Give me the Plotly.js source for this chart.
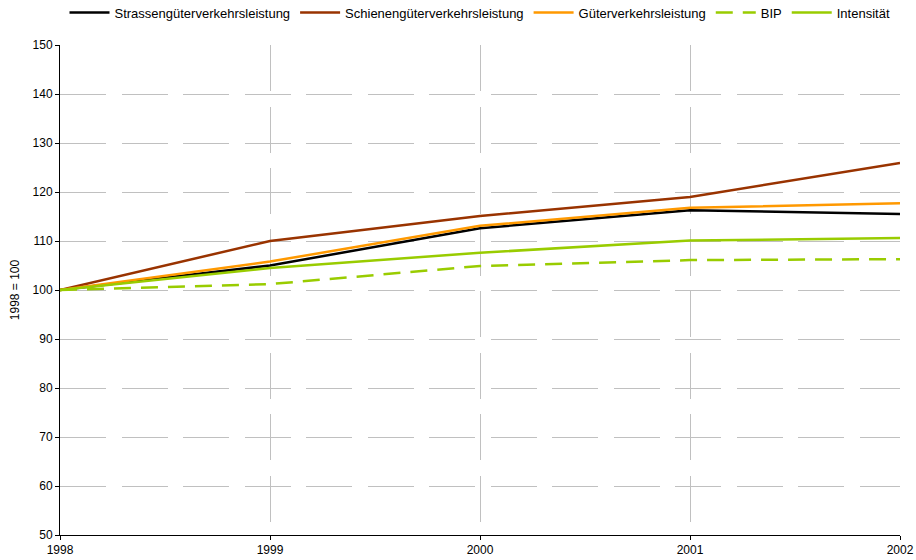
<!DOCTYPE html>
<html>
<head>
<meta charset="utf-8">
<script src="https://cdn.plot.ly/plotly-3.0.1.min.js"></script>
<style>html,body{margin:0;padding:0;background:#fff;}</style>
</head>
<body>
<div id="chart" style="width:916px;height:560px;"></div>
<script>
const years = [1998, 1999, 2000, 2001, 2002];
const strasse = [100, 105.0, 112.6, 116.3, 115.5];
const schiene = [100, 110.0, 115.1, 119.0, 125.9];
const gueter = [100, 105.8, 113.1, 116.8, 117.7];
const bip = [100, 101.2, 104.9, 106.1, 106.3];
const intensitaet = [100, 104.5, 107.6, 110.1, 110.6];
const names = ["Strassengüterverkehrsleistung", "Schienengüterverkehrsleistung", "Güterverkehrsleistung", "BIP", "Intensität"];
const yTicks = [50, 60, 70, 80, 90, 100, 110, 120, 130, 140, 150];

const series = [strasse, schiene, gueter, bip, intensitaet];
const colors = ["#000000", "#993300", "#FF9900", "#99CC00", "#99CC00"];
const dashes = ["solid", "solid", "solid", "17px,10px", "solid"];

const traces = series.map((s, i) => ({
  x: years, y: s, name: names[i], type: "scatter", mode: "lines",
  line: {color: colors[i], width: 2.5, dash: dashes[i]}
}));

const layout = {
  width: 916, height: 560,
  margin: {l: 60, r: 16, t: 45, b: 25, autoexpand: false},
  paper_bgcolor: "#fff", plot_bgcolor: "#fff",
  font: {family: "Liberation Sans, Arial, sans-serif", size: 12, color: "#000"},
  showlegend: true,
  legend: {orientation: "h", x: 0.5, xanchor: "center", y: 1.066, yanchor: "middle",
           font: {size: 13}, itemwidth: 40, tracegroupgap: 0},
  xaxis: {
    range: [1998, 2002], tickvals: years, ticktext: years.map(String),
    showline: true, linecolor: "#000", linewidth: 1,
    ticks: "outside", ticklen: 4, tickcolor: "#000",
    showgrid: true, gridcolor: "#c0c0c0", griddash: "46px,15.5px", gridwidth: 1,
    zeroline: false, fixedrange: true, tickfont: {size: 12}
  },
  yaxis: {
    range: [50, 150], tickvals: yTicks,
    title: {text: "1998 = 100", font: {size: 12}, standoff: 10},
    showline: true, linecolor: "#000", linewidth: 1,
    ticks: "outside", ticklen: 4, tickcolor: "#000",
    showgrid: true, gridcolor: "#c0c0c0", griddash: "46px,15.5px", gridwidth: 1,
    zeroline: false, fixedrange: true, tickfont: {size: 12}
  }
};

Plotly.newPlot("chart", traces, layout, {displayModeBar: false, staticPlot: true});
</script>
</body>
</html>
